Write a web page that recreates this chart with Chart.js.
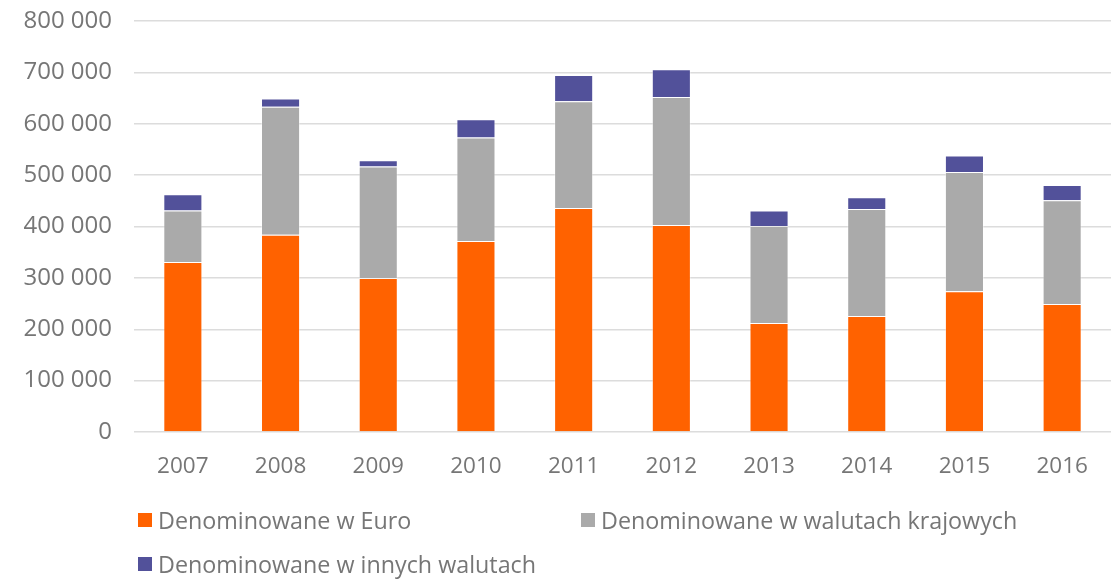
<!DOCTYPE html>
<html>
<head>
<meta charset="utf-8">
<script src="https://cdn.jsdelivr.net/npm/chart.js@4.4.0/dist/chart.umd.min.js"></script>
<style>
  html, body { margin: 0; padding: 0; background: #fff; }
  #wrap { position: relative; width: 1119px; height: 580px; }
  canvas { position: absolute; left: 0; top: 0; }
  .lg { position: absolute; display: flex; align-items: center; font-family: "Open Sans", sans-serif; font-size: 23.3px; color: #767676; white-space: nowrap; }
  .lg span.box { display: inline-block; width: 14px; height: 14px; margin-right: 6px; }
</style>
</head>
<body>
<div id="wrap">
  <canvas id="c" width="1119" height="580"></canvas>
</div>
<script>
const categories = ['2007', '2008', '2009', '2010', '2011', '2012', '2013', '2014', '2015', '2016'];
const seriesNames = ['Denominowane w Euro', 'Denominowane w walutach krajowych', 'Denominowane w innych walutach'];
const euro  = [331000, 384000, 300000, 372000, 436000, 403000, 212000, 226000, 274000, 249000];
const local = [100000, 249000, 217000, 201000, 208000, 249000, 189000, 208000, 232000, 202000];
const other = [ 32000,  16000,  12000,  36000,  51000,  54000,  30000,  23000,  32000,  30000];
const yTicks = [0, 100000, 200000, 300000, 400000, 500000, 600000, 700000, 800000];

const colors = ['#FF6200', '#AAAAAA', '#52519A'];
const fmt = v => String(v).replace(/\B(?=(\d{3})+(?!\d))/g, ' ');

const ds = [euro, local, other].map((d, i) => ({
  label: seriesNames[i],
  data: d,
  backgroundColor: colors[i],
  borderColor: 'rgba(255,255,255,0.35)',
  borderWidth: 1,
  categoryPercentage: 1,
  barPercentage: 0.4
}));

const chart = new Chart(document.getElementById('c'), {
  type: 'bar',
  data: { labels: categories, datasets: ds },
  options: {
    responsive: false,
    animation: false,
    layout: { padding: { top: 21, right: 8, left: 0, bottom: 0 } },
    plugins: { legend: { display: false }, tooltip: { enabled: false } },
    scales: {
      x: {
        stacked: true,
        grid: { display: false, drawTicks: false },
        border: { display: false },
        ticks: { color: '#767676', font: { family: '"Open Sans", sans-serif', size: 22.5 }, padding: 21 },
        afterFit: s => { s.height = 148; }
      },
      y: {
        stacked: true,
        min: 0, max: 800000,
        afterBuildTicks: s => { s.ticks = yTicks.map(v => ({ value: v })); },
        grid: { color: '#DCDCDC', lineWidth: 1.5, drawTicks: false },
        border: { display: false },
        ticks: { color: '#767676', font: { family: '"Open Sans", sans-serif', size: 24 }, padding: 22, callback: v => fmt(v) },
        afterFit: s => { s.width = 134; s.paddingTop = 0; s.paddingBottom = 0; }
      }
    }
  }
});

// HTML legend built from the chart's datasets
const legendSlots = [
  { left: 138, top: 520 },
  { left: 581, top: 520 },
  { left: 138, top: 564 }
];
const wrap = document.getElementById('wrap');
chart.data.datasets.forEach((d, i) => {
  const el = document.createElement('div');
  el.className = 'lg';
  el.style.left = legendSlots[i].left + 'px';
  el.style.top = (legendSlots[i].top - 16) + 'px';
  el.style.height = '32px';
  const b = document.createElement('span');
  b.className = 'box';
  b.style.background = d.backgroundColor;
  el.appendChild(b);
  el.appendChild(document.createTextNode(d.label));
  wrap.appendChild(el);
});
</script>
</body>
</html>
